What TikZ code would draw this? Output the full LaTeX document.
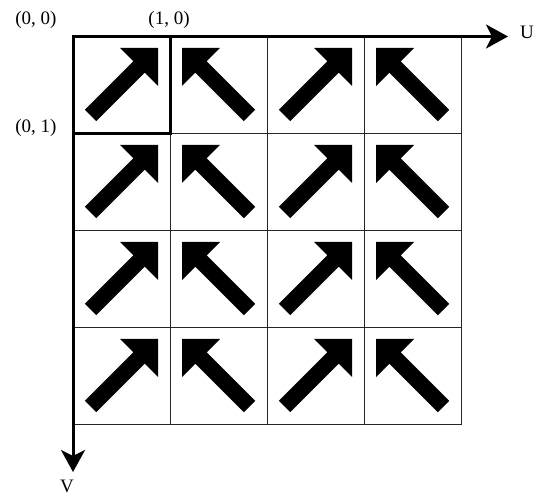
\documentclass[tikz,border=0pt]{standalone}
\usepackage{fontspec}
\setmainfont{Liberation Serif}
\usetikzlibrary{arrows.meta}
\tikzset{
  cell/.style={draw=black!85, line width=0.8pt, minimum size=97pt, inner sep=0pt, outer sep=0pt, anchor=north west},
  axis/.style={line width=3pt, -{Stealth[length=22pt 0,width=24pt 0,inset=6pt]}},
  lbl/.style={font=\fontsize{19}{22}\selectfont, inner sep=0pt},
  bigarrow/.pic={\fill (11.8,73.3) -- (60.3,24.8) -- (47,11.5) -- (85,11.5) -- (85,49.5) -- (71.7,36.2) -- (23.2,84.7) -- cycle;}
}
\begin{document}
\begin{tikzpicture}[x=1pt,y=-1pt]
\useasboundingbox (0,0) rectangle (536,497);
\foreach \i in {0,...,3}{
  \foreach \j in {0,...,3}{
    \node[cell] (c\i\j) at ({73+97*\i},{36.5+97*\j}) {};
  }
}
\foreach \j in {0,...,3}{
  \pic at (c0\j.north west) {bigarrow};
  \pic[xscale=-1] at (c1\j.north east) {bigarrow};
  \pic at (c2\j.north west) {bigarrow};
  \pic[xscale=-1] at (c3\j.north east) {bigarrow};
}
\draw[line width=3pt] (c00.north west) rectangle (c00.south east);
\coordinate (O) at (73,36.5);
\coordinate (Uend) at (508,36.5);
\coordinate (Vend) at (73,472);
\draw[axis] (O) -- (Uend);
\draw[axis] (O) -- (Vend);
\node[lbl] (l00) at (36,20) {(0, 0)};
\node[lbl] (l10) at (169,20) {(1, 0)};
\node[lbl] (l01) at (36,128) {(0, 1)};
\node[lbl] (lU) at (527,32) {U};
\node[lbl] (lV) at (67,486.5) {V};
\end{tikzpicture}
\end{document}
